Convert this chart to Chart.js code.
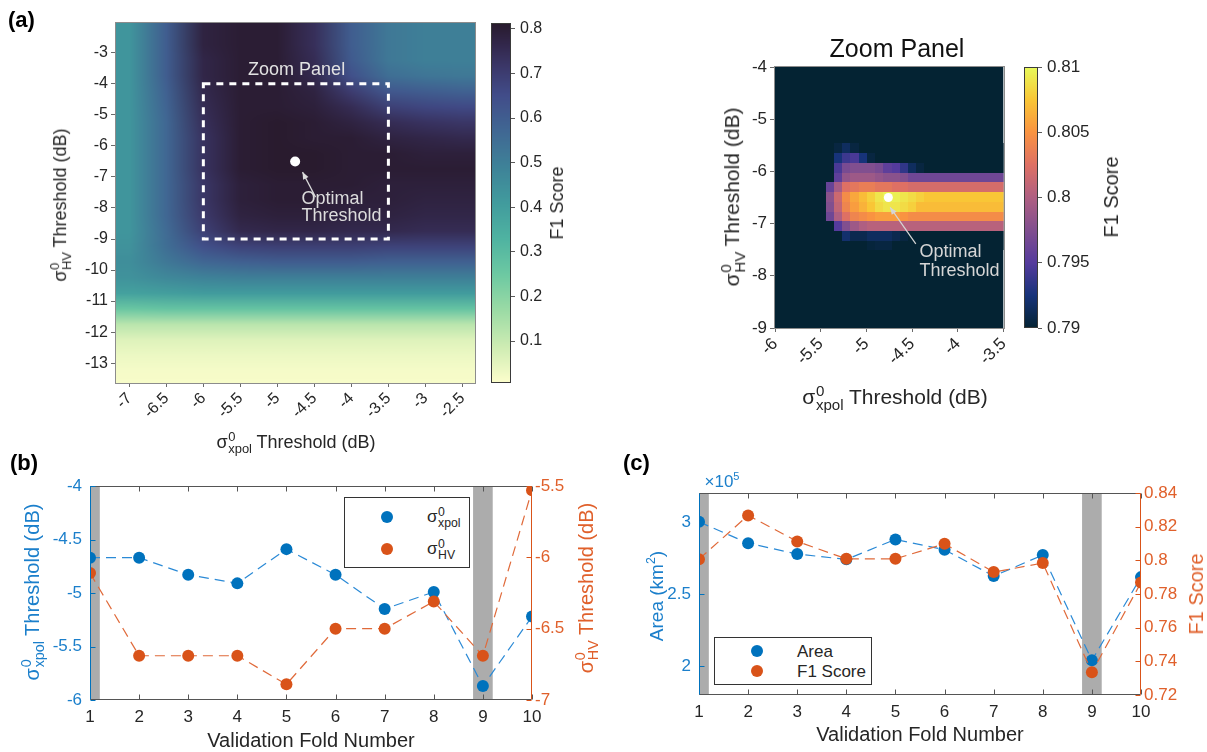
<!DOCTYPE html>
<html>
<head>
<meta charset="utf-8">
<title>Threshold search and validation folds</title>
<script src="https://cdn.jsdelivr.net/npm/chart.js@4.4.1/dist/chart.umd.min.js"></script>
<style>
  html, body { margin: 0; padding: 0; background: #fff; }
  body { position: relative; width: 1207px; height: 752px; overflow: hidden;
         font-family: "Liberation Sans", Arial, Helvetica, sans-serif; color: #262626; }
  canvas { position: absolute; }
  .t { position: absolute; white-space: nowrap; transform: translate(-50%, -50%); line-height: 1; }
  .t.rot { transform: translate(-50%, -50%) rotate(-90deg); }
  .ss { display: inline-flex; flex-direction: column; font-size: 0.72em; line-height: 0.92;
        vertical-align: 0.55em; margin: 0 0.35em 0 0.05em; text-align: left; }
  .panel { position: absolute; font-weight: bold; font-size: 22px; color: #000; line-height: 1; }
  .legend { position: absolute; border: 1px solid #333; background: #fff; }
  .legend .dot { position: absolute; width: 12px; height: 12px; border-radius: 50%; }
  .legend .lt { position: absolute; white-space: nowrap; transform: translateY(-50%); font-size: 17px; line-height: 1; }
  sup.k { font-size: 0.65em; vertical-align: 0.6em; line-height: 0; }
  .blue { color: #1b7fcb; }
  .orange { color: #e0602b; }
</style>
</head>
<body>
<canvas id="cA"></canvas>
<canvas id="cbA"></canvas>
<canvas id="cZ"></canvas>
<canvas id="cbZ"></canvas>
<canvas id="cB"></canvas>
<canvas id="cC"></canvas>

<div class="panel" style="left:8px;top:9px">(a)</div>
<div class="t rot" style="left:61px;top:205px;font-size:18px">σ<span class="ss"><span>0</span><span>HV</span></span>Threshold (dB)</div>
<div class="t" style="left:296px;top:443px;font-size:18px">σ<span class="ss"><span>0</span><span>xpol</span></span>Threshold (dB)</div>
<div class="t rot" style="left:557px;top:203px;font-size:18px">F1 Score</div>

<div class="t" style="left:897px;top:48px;font-size:25px;color:#111">Zoom Panel</div>
<div class="t rot" style="left:733px;top:197px;font-size:21px">σ<span class="ss"><span>0</span><span>HV</span></span>Threshold (dB)</div>
<div class="t" style="left:895px;top:398px;font-size:21px">σ<span class="ss"><span>0</span><span>xpol</span></span>Threshold (dB)</div>
<div class="t rot" style="left:1111px;top:197px;font-size:20px">F1 Score</div>

<div class="panel" style="left:10px;top:452px">(b)</div>
<div class="t rot blue" style="left:33px;top:592px;font-size:20px">σ<span class="ss"><span>0</span><span>xpol</span></span>Threshold (dB)</div>
<div class="t rot orange" style="left:587px;top:588px;font-size:20px">σ<span class="ss"><span>0</span><span>HV</span></span>Threshold (dB)</div>
<div class="t" style="left:311px;top:740px;font-size:20px">Validation Fold Number</div>
<div class="legend" style="left:344px;top:497px;width:124px;height:69px">
  <span class="dot" style="left:36px;top:13px;background:#0072BD"></span>
  <span class="dot" style="left:36px;top:45px;background:#D95319"></span>
  <div class="lt" style="left:82px;top:20px">σ<span class="ss"><span>0</span><span>xpol</span></span></div>
  <div class="lt" style="left:82px;top:52px">σ<span class="ss"><span>0</span><span>HV</span></span></div>
</div>

<div class="panel" style="left:623px;top:452px">(c)</div>
<div class="t blue" style="left:722px;top:481px;font-size:17px">×10<sup class="k">5</sup></div>
<div class="t rot blue" style="left:656px;top:596px;font-size:19px">Area (km<sup class="k">2</sup>)</div>
<div class="t rot orange" style="left:1196px;top:594px;font-size:20px">F1 Score</div>
<div class="t" style="left:920px;top:734px;font-size:20px">Validation Fold Number</div>
<div class="legend" style="left:714px;top:637px;width:156px;height:46px">
  <span class="dot" style="left:36px;top:7px;background:#0072BD"></span>
  <span class="dot" style="left:36px;top:27px;background:#D95319"></span>
  <div class="lt" style="left:82px;top:13px">Area</div>
  <div class="lt" style="left:82px;top:33px">F1 Score</div>
</div>

<script>
// ---------- data ----------

// (a) full threshold search: F1 on a coarse grid (rows = HV threshold, cols = xpol threshold)
const gridXpol = [-7, -6.5, -6, -5.5, -5, -4.5, -4, -3.5, -3, -2.5];
const gridHV = [-2.25, -2.75, -3.25, -3.75, -4.25, -4.75, -5.25, -5.75, -6.25, -6.75, -7.25, -7.75,
                -8.25, -8.75, -9.25, -9.75, -10.25, -10.75, -11.25, -11.75, -12.25, -12.75, -13.25, -13.75];
const gridF1 = [
  [0.43, 0.60, 0.78, 0.80, 0.80, 0.74, 0.60, 0.52, 0.50, 0.50],
  [0.43, 0.60, 0.78, 0.80, 0.80, 0.74, 0.60, 0.52, 0.50, 0.50],
  [0.43, 0.60, 0.77, 0.80, 0.80, 0.75, 0.61, 0.52, 0.50, 0.50],
  [0.43, 0.60, 0.77, 0.80, 0.80, 0.76, 0.64, 0.55, 0.53, 0.52],
  [0.43, 0.59, 0.76, 0.80, 0.80, 0.78, 0.70, 0.62, 0.60, 0.59],
  [0.43, 0.58, 0.75, 0.80, 0.80, 0.79, 0.75, 0.69, 0.67, 0.66],
  [0.43, 0.57, 0.74, 0.80, 0.81, 0.80, 0.78, 0.75, 0.73, 0.72],
  [0.43, 0.57, 0.73, 0.80, 0.81, 0.80, 0.80, 0.78, 0.77, 0.76],
  [0.43, 0.57, 0.73, 0.80, 0.81, 0.81, 0.80, 0.80, 0.79, 0.79],
  [0.43, 0.57, 0.73, 0.80, 0.81, 0.81, 0.80, 0.80, 0.80, 0.80],
  [0.43, 0.57, 0.72, 0.79, 0.80, 0.80, 0.80, 0.79, 0.79, 0.79],
  [0.43, 0.57, 0.72, 0.79, 0.80, 0.80, 0.79, 0.79, 0.78, 0.78],
  [0.43, 0.57, 0.71, 0.78, 0.79, 0.79, 0.78, 0.78, 0.77, 0.77],
  [0.43, 0.56, 0.69, 0.76, 0.77, 0.77, 0.76, 0.76, 0.75, 0.75],
  [0.44, 0.55, 0.64, 0.68, 0.69, 0.69, 0.69, 0.68, 0.68, 0.68],
  [0.45, 0.52, 0.57, 0.59, 0.60, 0.60, 0.60, 0.59, 0.59, 0.59],
  [0.44, 0.47, 0.49, 0.50, 0.50, 0.50, 0.50, 0.50, 0.50, 0.50],
  [0.39, 0.40, 0.41, 0.41, 0.41, 0.41, 0.41, 0.41, 0.41, 0.41],
  [0.26, 0.27, 0.27, 0.27, 0.27, 0.27, 0.27, 0.27, 0.27, 0.27],
  [0.12, 0.12, 0.12, 0.12, 0.12, 0.12, 0.12, 0.12, 0.12, 0.12],
  [0.06, 0.06, 0.06, 0.06, 0.06, 0.06, 0.06, 0.06, 0.06, 0.06],
  [0.035, 0.035, 0.035, 0.035, 0.035, 0.035, 0.035, 0.035, 0.035, 0.035],
  [0.02, 0.02, 0.02, 0.02, 0.02, 0.02, 0.02, 0.02, 0.02, 0.02],
  [0.015, 0.015, 0.015, 0.015, 0.015, 0.015, 0.015, 0.015, 0.015, 0.015]
];
const optimalXpol = -4.76;
const optimalHV = -6.5;

// zoom panel: cell centres and F1 values (anything below 0.79 shows as the floor colour)
const zoomXpol = [-5.94, -5.85, -5.76, -5.67, -5.58, -5.49, -5.40, -5.31, -5.22, -5.13, -5.04, -4.95, -4.86, -4.77,
                  -4.68, -4.59, -4.50, -4.41, -4.32, -4.23, -4.14, -4.05, -3.96, -3.87, -3.78, -3.69, -3.60, -3.51];
const zoomHV = [-5.56, -5.75, -5.93, -6.12, -6.30, -6.49, -6.68, -6.86, -7.05, -7.23, -7.42];
const zoomF1 = [
  [0.78, 0.78, 0.78, 0.78, 0.78, 0.78, 0.78, 0.7905, 0.7915, 0.7905, 0.78, 0.78, 0.78, 0.78, 0.78, 0.78, 0.78, 0.78, 0.78, 0.78, 0.78, 0.78, 0.78, 0.78, 0.78, 0.78, 0.78, 0.78],
  [0.78, 0.78, 0.78, 0.78, 0.78, 0.78, 0.78, 0.7925, 0.794, 0.7945, 0.7925, 0.7905, 0.78, 0.78, 0.78, 0.78, 0.78, 0.78, 0.78, 0.78, 0.78, 0.78, 0.78, 0.78, 0.78, 0.78, 0.78, 0.78],
  [0.78, 0.78, 0.78, 0.78, 0.78, 0.78, 0.78, 0.7945, 0.797, 0.7975, 0.7975, 0.7975, 0.797, 0.7955, 0.795, 0.7935, 0.7915, 0.7905, 0.78, 0.78, 0.78, 0.78, 0.78, 0.78, 0.78, 0.78, 0.78, 0.78],
  [0.78, 0.78, 0.78, 0.78, 0.78, 0.78, 0.78, 0.7955, 0.7985, 0.799, 0.799, 0.799, 0.7985, 0.798, 0.798, 0.7975, 0.7965, 0.7965, 0.7965, 0.7965, 0.7965, 0.7965, 0.7965, 0.7965, 0.7965, 0.7965, 0.7965, 0.7965],
  [0.78, 0.78, 0.78, 0.78, 0.78, 0.78, 0.796, 0.7995, 0.8025, 0.803, 0.8035, 0.8035, 0.803, 0.803, 0.8025, 0.8025, 0.802, 0.802, 0.802, 0.802, 0.802, 0.802, 0.802, 0.802, 0.802, 0.802, 0.802, 0.802],
  [0.78, 0.78, 0.78, 0.78, 0.78, 0.78, 0.798, 0.8015, 0.8045, 0.806, 0.807, 0.808, 0.809, 0.8095, 0.8095, 0.809, 0.8085, 0.808, 0.8075, 0.8075, 0.8075, 0.8075, 0.8075, 0.8075, 0.8075, 0.8075, 0.8075, 0.8075],
  [0.78, 0.78, 0.78, 0.78, 0.78, 0.78, 0.7975, 0.801, 0.804, 0.8055, 0.8065, 0.8075, 0.8085, 0.809, 0.809, 0.8085, 0.808, 0.807, 0.807, 0.807, 0.807, 0.807, 0.807, 0.807, 0.807, 0.807, 0.807, 0.807],
  [0.78, 0.78, 0.78, 0.78, 0.78, 0.78, 0.7965, 0.80, 0.8025, 0.804, 0.8045, 0.805, 0.8055, 0.8055, 0.8055, 0.805, 0.8045, 0.8045, 0.8045, 0.8045, 0.8045, 0.8045, 0.8045, 0.8045, 0.8045, 0.8045, 0.8045, 0.8045],
  [0.78, 0.78, 0.78, 0.78, 0.78, 0.78, 0.78, 0.795, 0.7975, 0.799, 0.80, 0.8005, 0.8005, 0.8005, 0.8005, 0.8005, 0.8005, 0.8005, 0.8005, 0.8005, 0.8005, 0.8005, 0.8005, 0.8005, 0.8005, 0.8005, 0.8005, 0.8005],
  [0.78, 0.78, 0.78, 0.78, 0.78, 0.78, 0.78, 0.78, 0.792, 0.791, 0.791, 0.7915, 0.7915, 0.7915, 0.791, 0.7905, 0.78, 0.78, 0.78, 0.78, 0.78, 0.78, 0.78, 0.78, 0.78, 0.78, 0.78, 0.78],
  [0.78, 0.78, 0.78, 0.78, 0.78, 0.78, 0.78, 0.78, 0.78, 0.78, 0.78, 0.7903, 0.7905, 0.7905, 0.78, 0.78, 0.78, 0.78, 0.78, 0.78, 0.78, 0.78, 0.78, 0.78, 0.78, 0.78, 0.78, 0.78]
];

// (b) and (c): per validation fold
const folds = [1, 2, 3, 4, 5, 6, 7, 8, 9, 10];
const xpolThresh = [-4.67, -4.67, -4.83, -4.91, -4.59, -4.83, -5.15, -4.99, -5.87, -5.22];
const hvThresh = [-6.11, -6.69, -6.69, -6.69, -6.89, -6.50, -6.50, -6.31, -6.69, -5.53];
const foldArea = [3.00e5, 2.852e5, 2.777e5, 2.74e5, 2.878e5, 2.807e5, 2.624e5, 2.77e5, 2.04e5, 2.617e5];
const foldF1 = [0.8007, 0.8267, 0.8112, 0.8009, 0.8009, 0.8098, 0.7930, 0.7984, 0.7335, 0.7868];
const flaggedFolds = [1, 9];

// tick labels
const aXTicks = [-7, -6.5, -6, -5.5, -5, -4.5, -4, -3.5, -3, -2.5];
const aYTicks = [-13, -12, -11, -10, -9, -8, -7, -6, -5, -4, -3];
const aCbTicks = [0.1, 0.2, 0.3, 0.4, 0.5, 0.6, 0.7, 0.8];
const zXTicks = [-6, -5.5, -5, -4.5, -4, -3.5];
const zYTicks = [-9, -8, -7, -6, -5, -4];
const zCbTicks = [0.79, 0.795, 0.8, 0.805, 0.81];
const bLeftTicks = [-6, -5.5, -5, -4.5, -4];
const bRightTicks = [-7, -6.5, -6, -5.5];
const cLeftTicks = [2e5, 2.5e5, 3e5];
const cRightTicks = [0.72, 0.74, 0.76, 0.78, 0.8, 0.82, 0.84];

// ---------- axis limits and colour maps ----------
const aXMin = -7.18, aXMax = -2.33, aYMin = -13.64, aYMax = -2.04;
const aCbMin = 0.006, aCbMax = 0.813;
const zXMin = -6, zXMax = -3.5, zYMin = -9, zYMax = -4;
const zCbMin = 0.79, zCbMax = 0.81;

const deepStops = [
  [0.00, [253, 254, 204]], [0.10, [206, 236, 179]], [0.20, [156, 219, 165]], [0.30, [109, 201, 162]],
  [0.40, [79, 179, 161]], [0.50, [65, 155, 157]], [0.60, [62, 130, 152]], [0.70, [64, 103, 147]],
  [0.80, [65, 76, 137]], [0.88, [59, 55, 104]], [0.94, [50, 39, 75]], [1.00, [40, 26, 44]]
];
const thermalStops = [
  [0.0, [4, 35, 51]], [0.125, [23, 51, 122]], [0.25, [85, 59, 157]], [0.375, [129, 79, 143]],
  [0.5, [175, 95, 130]], [0.625, [222, 112, 100]], [0.75, [249, 147, 65]], [0.875, [249, 198, 54]],
  [1.0, [232, 250, 91]]
];

const FONT = '"Liberation Sans", Arial, Helvetica, sans-serif';
const BLUE = '#0072BD', ORANGE = '#D95319';
const BLUE_TXT = '#1b7fcb', ORANGE_TXT = '#e0602b';
const BLUE_LINE = '#2b8ad6', ORANGE_LINE = '#e06a3a';

Chart.defaults.font.family = FONT;
Chart.defaults.color = '#262626';

function cmap(stops, p) {
  p = Math.max(0, Math.min(1, p));
  for (let i = 1; i < stops.length; i++) {
    if (p <= stops[i][0]) {
      const [p0, c0] = stops[i - 1], [p1, c1] = stops[i];
      const f = (p - p0) / (p1 - p0);
      return c0.map((c, j) => Math.round(c + (c1[j] - c) * f));
    }
  }
  return stops[stops.length - 1][1];
}
const rgb = c => `rgb(${c[0]},${c[1]},${c[2]})`;

function edges(c) {
  const e = [c[0] - (c[1] - c[0]) / 2];
  for (let i = 1; i < c.length; i++) e.push((c[i - 1] + c[i]) / 2);
  e.push(c[c.length - 1] + (c[c.length - 1] - c[c.length - 2]) / 2);
  return e;
}

function place(id, left, top, w, h) {
  const c = document.getElementById(id);
  c.width = w; c.height = h;
  c.style.left = left + 'px'; c.style.top = top + 'px';
  return c;
}

const fixedTicks = values => scale => { scale.ticks = values.map(v => ({ value: v })); };
const fmt = v => String(parseFloat(Number(v).toFixed(4)));

function baseOpts() {
  return {
    responsive: false, animation: false, events: [], devicePixelRatio: 1,
    plugins: { legend: { display: false }, tooltip: { enabled: false } }
  };
}

function clipArea(ctx, a) {
  ctx.beginPath(); ctx.rect(a.left, a.top, a.width, a.height); ctx.clip();
}

function arrow(ctx, x0, y0, x1, y1, color) {
  const ang = Math.atan2(y1 - y0, x1 - x0);
  ctx.strokeStyle = color; ctx.fillStyle = color; ctx.lineWidth = 1.2;
  ctx.beginPath(); ctx.moveTo(x0, y0); ctx.lineTo(x1, y1); ctx.stroke();
  ctx.beginPath();
  ctx.moveTo(x1, y1);
  ctx.lineTo(x1 - 7 * Math.cos(ang) + 3 * Math.sin(ang), y1 - 7 * Math.sin(ang) - 3 * Math.cos(ang));
  ctx.lineTo(x1 - 7 * Math.cos(ang) - 3 * Math.sin(ang), y1 - 7 * Math.sin(ang) + 3 * Math.cos(ang));
  ctx.closePath(); ctx.fill();
}

// ---------- plugins ----------
// smooth heat map for panel (a): one pixel per grid cell, scaled up onto the axes
const heatA = {
  id: 'heatA',
  beforeDatasetsDraw(chart) {
    const { ctx, chartArea: a, scales: { x, y } } = chart;
    const nx = gridXpol.length, ny = gridHV.length;
    const off = document.createElement('canvas');
    off.width = nx; off.height = ny;
    const octx = off.getContext('2d');
    const img = octx.createImageData(nx, ny);
    gridF1.forEach((row, j) => row.forEach((v, i) => {
      const c = cmap(deepStops, (v - aCbMin) / (aCbMax - aCbMin));
      const k = (j * nx + i) * 4;
      img.data[k] = c[0]; img.data[k + 1] = c[1]; img.data[k + 2] = c[2]; img.data[k + 3] = 255;
    }));
    octx.putImageData(img, 0, 0);
    const xe = edges(gridXpol), ye = edges(gridHV);
    const x0 = x.getPixelForValue(xe[0]), x1 = x.getPixelForValue(xe[nx]);
    const y0 = y.getPixelForValue(ye[0]), y1 = y.getPixelForValue(ye[ny]);
    ctx.save();
    clipArea(ctx, a);
    ctx.imageSmoothingEnabled = true;
    ctx.imageSmoothingQuality = 'medium';
    ctx.drawImage(off, x0, y0, x1 - x0, y1 - y0);
    ctx.restore();
  }
};

// blocky heat map for the zoom panel
const heatZ = {
  id: 'heatZ',
  beforeDatasetsDraw(chart) {
    const { ctx, chartArea: a, scales: { x, y } } = chart;
    ctx.save();
    clipArea(ctx, a);
    ctx.fillStyle = rgb(cmap(thermalStops, 0));
    ctx.fillRect(a.left, a.top, a.width, a.height);
    const xe = edges(zoomXpol), ye = edges(zoomHV);
    zoomF1.forEach((row, j) => row.forEach((v, i) => {
      const x0 = Math.round(x.getPixelForValue(xe[i])), x1 = Math.round(x.getPixelForValue(xe[i + 1]));
      const y0 = Math.round(y.getPixelForValue(ye[j])), y1 = Math.round(y.getPixelForValue(ye[j + 1]));
      ctx.fillStyle = rgb(cmap(thermalStops, (v - zCbMin) / (zCbMax - zCbMin)));
      ctx.fillRect(Math.min(x0, x1), Math.min(y0, y1), Math.abs(x1 - x0), Math.abs(y1 - y0));
    }));
    ctx.restore();
  }
};

const colorbar = {
  id: 'colorbar',
  beforeDatasetsDraw(chart, args, o) {
    const { ctx, chartArea: a, scales: { y } } = chart;
    for (let py = Math.floor(a.top); py < Math.ceil(a.bottom); py++) {
      const v = y.getValueForPixel(py + 0.5);
      ctx.fillStyle = rgb(cmap(o.stops, (v - y.min) / (y.max - y.min)));
      ctx.fillRect(a.left, py, a.width, 1);
    }
    ctx.strokeStyle = '#3a3a3a'; ctx.lineWidth = 1;
    ctx.strokeRect(Math.round(a.left) + 0.5, Math.round(a.top) + 0.5, Math.round(a.width) - 1, Math.round(a.height) - 1);
  }
};

const outline = {
  id: 'outline',
  afterDatasetsDraw(chart, args, o) {
    const { ctx, chartArea: a } = chart;
    ctx.save();
    ctx.strokeStyle = o.color || '#8c8c8c'; ctx.lineWidth = 1;
    ctx.strokeRect(Math.round(a.left) - 0.5, Math.round(a.top) - 0.5, Math.round(a.width) + 1, Math.round(a.height) + 1);
    ctx.restore();
  }
};

// dashed zoom window and labels on panel (a)
const notesA = {
  id: 'notesA',
  afterDatasetsDraw(chart) {
    const { ctx, scales: { x, y } } = chart;
    const px = v => x.getPixelForValue(v), py = v => y.getPixelForValue(v);
    ctx.save();
    ctx.strokeStyle = '#ffffff'; ctx.lineWidth = 3; ctx.setLineDash([7, 6]);
    ctx.strokeRect(px(zXMin), py(zYMax), px(zXMax) - px(zXMin), py(zYMin) - py(zYMax));
    ctx.setLineDash([]);
    ctx.font = `18px ${FONT}`; ctx.textBaseline = 'middle';
    ctx.fillStyle = '#e2e2e2'; ctx.textAlign = 'center';
    ctx.fillText('Zoom Panel', px(-4.74), py(-3.57));
    arrow(ctx, px(-4.484), py(-7.65), px(-4.66), py(-6.845), '#dcdcdc');
    ctx.fillStyle = '#dcdcdc'; ctx.textAlign = 'left';
    ctx.fillText('Optimal', px(-4.675), py(-7.72));
    ctx.fillText('Threshold', px(-4.675), py(-8.27));
    ctx.restore();
  }
};

const notesZ = {
  id: 'notesZ',
  afterDatasetsDraw(chart) {
    const { ctx, scales: { x, y } } = chart;
    const px = v => x.getPixelForValue(v), py = v => y.getPixelForValue(v);
    ctx.save();
    arrow(ctx, px(-4.46), py(-7.39), px(-4.74), py(-6.69), '#d6d6d6');
    ctx.font = `18px ${FONT}`; ctx.textBaseline = 'middle';
    ctx.fillStyle = '#d6d6d6'; ctx.textAlign = 'left';
    ctx.fillText('Optimal', px(-4.42), py(-7.54));
    ctx.fillText('Threshold', px(-4.42), py(-7.91));
    ctx.restore();
  }
};

// grey bands marking the flagged folds
const bands = {
  id: 'bands',
  beforeDatasetsDraw(chart, args, o) {
    const { ctx, chartArea: a, scales: { x } } = chart;
    ctx.save();
    clipArea(ctx, a);
    ctx.fillStyle = '#acacac';
    flaggedFolds.forEach(f => {
      const x0 = x.getPixelForValue(f - o.half), x1 = x.getPixelForValue(f + o.half);
      ctx.fillRect(x0, a.top, x1 - x0, a.height);
    });
    ctx.restore();
  }
};

// MATLAB-like box with inward ticks, coloured y axes
const frame = {
  id: 'frame',
  afterDatasetsDraw(chart, args, o) {
    const { ctx, chartArea: a, scales } = chart;
    const L = Math.round(a.left) + 0.5, R = Math.round(a.right) - 0.5;
    const T = Math.round(a.top) + 0.5, B = Math.round(a.bottom) - 0.5;
    const seg = (x0, y0, x1, y1, c) => {
      ctx.strokeStyle = c; ctx.beginPath(); ctx.moveTo(x0, y0); ctx.lineTo(x1, y1); ctx.stroke();
    };
    ctx.save();
    ctx.lineWidth = 1;
    seg(L, T, R, T, '#555'); seg(L, B, R, B, '#555');
    scales.x.ticks.forEach(t => {
      const p = Math.round(scales.x.getPixelForValue(t.value)) + 0.5;
      seg(p, B, p, B - 5, '#555'); seg(p, T, p, T + 5, '#555');
    });
    seg(L, T, L, B, BLUE);
    scales.y.ticks.forEach(t => {
      const p = Math.round(scales.y.getPixelForValue(t.value)) + 0.5;
      seg(L, p, L + 5, p, BLUE);
    });
    seg(R, T, R, B, ORANGE);
    scales.y1.ticks.forEach(t => {
      const p = Math.round(scales.y1.getPixelForValue(t.value)) + 0.5;
      seg(R, p, R - 5, p, ORANGE);
    });
    ctx.restore();
  }
};

// ---------- panel (a) ----------
function heatAxes(xMin, xMax, xTicks, yMin, yMax, yTicks, xH, yW, size) {
  return {
    x: {
      type: 'linear', min: xMin, max: xMax,
      afterBuildTicks: fixedTicks(xTicks), afterFit: s => { s.height = xH; },
      border: { display: false },
      grid: { drawOnChartArea: false, tickLength: 4, color: '#6a6a6a' },
      ticks: { autoSkip: false, minRotation: 45, maxRotation: 45, padding: 2, font: { size }, callback: fmt }
    },
    y: {
      type: 'linear', min: yMin, max: yMax,
      afterBuildTicks: fixedTicks(yTicks), afterFit: s => { s.width = yW; },
      border: { display: false },
      grid: { drawOnChartArea: false, tickLength: 5, color: '#6a6a6a' },
      ticks: { autoSkip: false, padding: 3, font: { size }, callback: fmt }
    }
  };
}

new Chart(place('cA', 0, 0, 480, 460), {
  type: 'scatter',
  data: { datasets: [{ data: [{ x: optimalXpol, y: optimalHV }], pointRadius: 5,
    pointBackgroundColor: '#ffffff', pointBorderWidth: 0, clip: 0 }] },
  options: Object.assign(baseOpts(), {
    layout: { padding: { top: 23, right: 4, left: 0, bottom: 0 } },
    scales: heatAxes(aXMin, aXMax, aXTicks, aYMin, aYMax, aYTicks, 77, 116, 16)
  }),
  plugins: [heatA, outline, notesA]
});

function colorbarChart(id, left, w, h, padTop, padBottom, barW, min, max, ticks, stops, size) {
  const opts = baseOpts();
  opts.plugins.colorbar = { stops };
  return new Chart(place(id, left, 0, w, h), {
    type: 'scatter',
    data: { datasets: [] },
    options: Object.assign(opts, {
      layout: { padding: { top: padTop, bottom: padBottom, left: 0, right: 0 } },
      scales: {
        x: { display: false, min: 0, max: 1 },
        y: {
          position: 'right', min, max,
          afterBuildTicks: fixedTicks(ticks), afterFit: s => { s.width = w - barW; },
          border: { display: false },
          grid: { drawOnChartArea: false, tickLength: 4, color: '#5a5a5a' },
          ticks: { autoSkip: false, padding: 5, font: { size }, callback: fmt }
        }
      }
    }),
    plugins: [colorbar]
  });
}

colorbarChart('cbA', 491, 90, 460, 23, 77, 20, aCbMin, aCbMax, aCbTicks, deepStops, 16);

// ---------- zoom panel ----------
new Chart(place('cZ', 700, 0, 320, 440), {
  type: 'scatter',
  data: { datasets: [{ data: [{ x: optimalXpol, y: optimalHV }], pointRadius: 4.5,
    pointBackgroundColor: '#ffffff', pointBorderWidth: 0, clip: 0 }] },
  options: Object.assign(baseOpts(), {
    layout: { padding: { top: 67, right: 6, left: 0, bottom: 0 } },
    scales: heatAxes(zXMin, zXMax, zXTicks, zYMin, zYMax, zYTicks, 112, 75, 17)
  }),
  plugins: [heatZ, outline, notesZ]
});

colorbarChart('cbZ', 1024, 90, 440, 67, 112, 14, zCbMin, zCbMax, zCbTicks, thermalStops, 17);

// ---------- panels (b) and (c) ----------
function series(xs, ys, axis, fill, line, order) {
  return {
    data: xs.map((f, i) => ({ x: f, y: ys[i] })), yAxisID: axis, order,
    borderColor: line, borderWidth: 1.2, borderDash: [10, 6],
    pointRadius: 6, pointBackgroundColor: fill, pointBorderWidth: 0,
    fill: false, tension: 0, clip: 0
  };
}

function foldChart(id, left, xH, padTop, lW, rW, left1, right1, yFmt) {
  const opts = baseOpts();
  opts.plugins.bands = { half: 0.2 };
  const yAxis = (position, min, max, ticks, width, color, pad) => ({
    type: 'linear', position, min, max,
    afterBuildTicks: fixedTicks(ticks), afterFit: s => { s.width = width; },
    border: { display: false }, grid: { display: false, drawTicks: false },
    ticks: { autoSkip: false, padding: pad, color, font: { size: 17 }, callback: yFmt }
  });
  return new Chart(place(id, left, 440, 600 + (left ? 7 : 0), 312), {
    type: 'line',
    data: { datasets: [
      series(folds, right1.data, 'y1', ORANGE, ORANGE_LINE, 0),
      series(folds, left1.data, 'y', BLUE, BLUE_LINE, 1)
    ] },
    options: Object.assign(opts, {
      layout: { padding: { top: padTop, left: 0, right: 0, bottom: 0 } },
      scales: {
        x: {
          type: 'linear', min: 1, max: 10,
          afterBuildTicks: fixedTicks(folds), afterFit: s => { s.height = xH; },
          border: { display: false }, grid: { display: false, drawTicks: false },
          ticks: { autoSkip: false, maxRotation: 0, padding: 7, font: { size: 17 }, color: '#262626' }
        },
        y: yAxis('left', left1.min, left1.max, left1.ticks, lW, BLUE_TXT, 8),
        y1: yAxis('right', right1.min, right1.max, right1.ticks, rW, ORANGE_TXT, 3)
      }
    }),
    plugins: [bands, frame]
  });
}

foldChart('cB', 0, 52, 46, 90, 68,
  { data: xpolThresh, min: -6, max: -4, ticks: bLeftTicks },
  { data: hvThresh, min: -7, max: -5.5, ticks: bRightTicks },
  fmt);

foldChart('cC', 600, 57, 53, 99, 66,
  { data: foldArea, min: 1.8e5, max: 3.2e5, ticks: cLeftTicks },
  { data: foldF1, min: 0.72, max: 0.84, ticks: cRightTicks },
  v => (Math.abs(v) > 10 ? fmt(v / 1e5) : fmt(v)));
</script>
</body>
</html>
